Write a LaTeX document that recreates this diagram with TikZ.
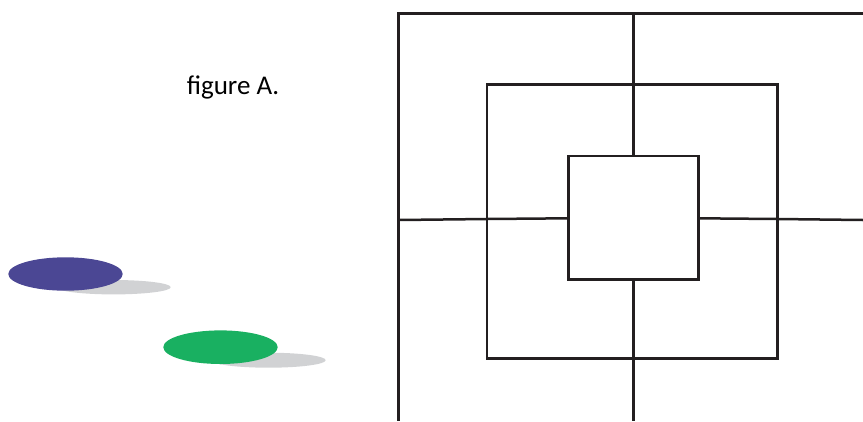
\documentclass[tikz,border=0pt]{standalone}
\usepackage{fontspec}
\setmainfont{Carlito}
\usetikzlibrary{positioning}
\definecolor{ink}{HTML}{231F20}
\definecolor{blob}{HTML}{4B4794}
\definecolor{leaf}{HTML}{19B061}
\definecolor{shade}{HTML}{D1D2D4}

\begin{document}
\begin{tikzpicture}[x=1pt,y=-1pt,
 wall/.style={draw=ink,line width=2.5pt},
 pad/.style={fill=shade}]
\useasboundingbox (0,0) rectangle (863,421);
% caption
\node[anchor=base,font=\fontsize{27}{31}\selectfont,inner sep=0pt] (cap) at (233,94.3) {figure A.};
% discs with their shadows
\fill[pad] (113.5,287.2) ellipse [x radius=57.2,y radius=7.2];
\fill[blob] (65.5,274) ellipse [x radius=57.2,y radius=16.7];
\fill[pad] (268.5,360.2) ellipse [x radius=57.2,y radius=7.5];
\fill[leaf] (220.5,347.2) ellipse [x radius=57.2,y radius=16.8];
% squares
\coordinate (outnw) at (398.5,13.3);
\coordinate (midnw) at (487,84.3);
\coordinate (midse) at (777.3,358.3);
\coordinate (innw) at (568.3,156);
\coordinate (inse) at (698.3,279.3);
\draw[wall] (863,13.3) -| (398.5,421);
\draw[wall] (midnw) rectangle (midse);
\draw[wall] (innw) rectangle (inse);
% cross bars
\draw[wall] (633.3,13.3) -- (633.3,156);
\draw[wall] (633.3,279.3) -- (633.3,421);
\draw[wall] (398.5,220) -- (487,219) -- (568.3,218.3);
\draw[wall] (698.3,218.3) -- (777.3,219) -- (863,220);
\end{tikzpicture}
\end{document}
